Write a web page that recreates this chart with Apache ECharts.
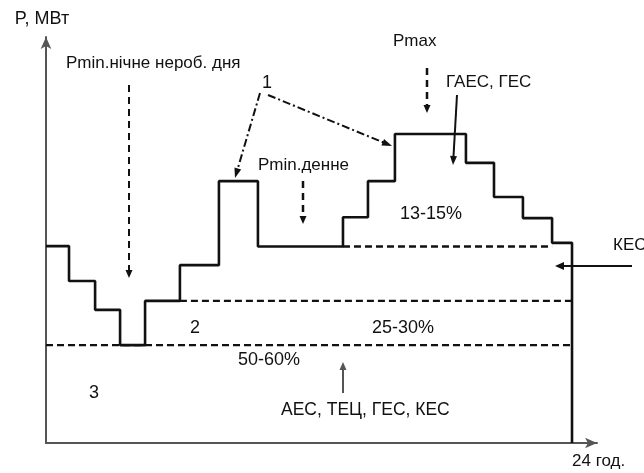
<!DOCTYPE html>
<html><head><meta charset="utf-8">
<script src="https://cdn.jsdelivr.net/npm/echarts@6/dist/echarts.min.js"></script>
<style>html,body{margin:0;padding:0;background:#fff}#c{width:644px;height:473px}</style>
</head><body><div id="c"></div>
<script>
// Daily load curve (hours, relative load units)
const stepHours = [0, 1.05, 2.24, 3.38, 4.52, 6.11, 7.89, 9.67, 13.55, 14.69, 15.92, 19.16, 20.44, 21.76, 23.09, 24, 24];
const stepLoad  = [48.5, 39.9, 32.8, 24.1, 35.0, 43.8, 64.5, 48.4, 55.6, 64.5, 76.1, 69.0, 60.6, 55.4, 49.3, 49.3, 0];
// Zone boundary (dashed) lines
const zoneFrom  = [0, 6.11, 13.55];
const zoneTo    = [24, 24, 23.09];
const zoneLevel = [24.1, 35.0, 48.4];
// Axis labels
const xTickValues = [24];
const xTickLabels = ['24 год.'];
const yAxisName = 'P, МВт';

const FONT = '"Liberation Sans", Arial, sans-serif';
const TXT = '#111';

const chart = echarts.init(document.getElementById('c'), null, {renderer: 'canvas'});

const series = [{
  type: 'line', step: 'end', symbol: 'none', silent: true, clip: false,
  data: stepHours.map((h, i) => [h, stepLoad[i]]),
  lineStyle: {color: '#111', width: 2.6}
}];
zoneLevel.forEach((lv, i) => {
  series.push({
    type: 'line', symbol: 'none', silent: true, clip: false,
    data: [[zoneFrom[i], lv], [zoneTo[i], lv]],
    lineStyle: {color: '#111', width: 2.4, type: [7, 4]}
  });
});

function txt(text, x, y, size, align) {
  return {type: 'text', x: x, y: y, silent: true, z: 100,
    style: {text: text, font: (size || 17) + 'px ' + FONT, fill: TXT, align: align || 'left', verticalAlign: 'middle'}};
}
function arrow(x1, y1, x2, y2, opt) {
  opt = opt || {};
  const color = opt.color || '#111';
  const w = opt.width || 2;
  const L = opt.headLen || 9, W = opt.headW || 7;
  const dx = x2 - x1, dy = y2 - y1, d = Math.sqrt(dx * dx + dy * dy);
  const ux = dx / d, uy = dy / d;
  const bx = x2 - ux * L, by = y2 - uy * L;
  const px = -uy * W / 2, py = ux * W / 2;
  return [
    {type: 'line', silent: true, z: 100, shape: {x1: x1, y1: y1, x2: bx + ux * 1, y2: by + uy * 1},
      style: {stroke: color, lineWidth: w, lineDash: opt.dash || null}},
    {type: 'polygon', silent: true, z: 100, shape: {points: [[x2, y2], [bx + px, by + py], [bx - px, by - py]]},
      style: {fill: color}}
  ];
}

const graphic = [].concat(
  txt('Pmin.нічне нероб. дня', 66, 63, 17),
  txt('1', 267, 83, 18, 'center'),
  txt('Pmin.денне', 258, 165, 17),
  txt('Pmax', 393, 41, 17),
  txt('ГАЕС, ГЕС', 446, 82, 17),
  txt('13-15%', 400, 214, 18),
  txt('КЕС', 613, 245, 17),
  txt('2', 195, 328, 18, 'center'),
  txt('25-30%', 372, 328, 18),
  txt('50-60%', 238, 360, 18),
  txt('3', 94, 393, 18, 'center'),
  txt('АЕС, ТЕЦ, ГЕС, КЕС', 281, 410, 17.5),
  arrow(129, 85, 129, 278, {dash: [7, 5], width: 2, headLen: 8, headW: 7}),
  arrow(303, 181, 303, 224, {dash: [7, 5], width: 2.5, headLen: 8, headW: 7}),
  arrow(427, 68, 427, 113, {dash: [7, 5], width: 2.5, headLen: 8, headW: 7}),
  arrow(457, 95, 453, 165, {width: 2, headLen: 9, headW: 7}),
  arrow(632, 266, 555, 266, {width: 2, headLen: 9, headW: 8}),
  arrow(343, 393, 343, 362, {width: 2, color: '#555', headLen: 8, headW: 7}),
  arrow(260, 93, 235, 178, {dash: [8, 3, 2, 3], width: 2, headLen: 10, headW: 7}),
  arrow(268, 95, 392, 146, {dash: [8, 3, 2, 3], width: 2, headLen: 10, headW: 7})
);

chart.setOption({
  animation: false,
  backgroundColor: '#fff',
  grid: {left: 46, right: 47, top: 37, bottom: 30, containLabel: false},
  xAxis: {
    type: 'value', min: 0, max: 25.14,
    axisLine: {show: true, symbol: ['none', 'arrow'], symbolSize: [8, 12], lineStyle: {color: '#555', width: 2}},
    axisTick: {show: false}, splitLine: {show: false},
    axisLabel: {
      customValues: xTickValues,
      formatter: (v) => xTickLabels[xTickValues.indexOf(v)] || '',
      align: 'left', margin: 10, color: TXT, fontSize: 17, fontFamily: FONT
    }
  },
  yAxis: {
    type: 'value', min: 0, max: 100,
    name: yAxisName, nameLocation: 'end', nameGap: 9,
    nameTextStyle: {color: TXT, fontSize: 18, fontFamily: FONT, align: 'center', padding: [0, 0, 0, -8]},
    axisLine: {show: true, symbol: ['none', 'arrow'], symbolSize: [8, 12], lineStyle: {color: '#555', width: 2}},
    axisTick: {show: false}, splitLine: {show: false}, axisLabel: {show: false}
  },
  series: series,
  graphic: graphic
});
</script>
</body></html>
